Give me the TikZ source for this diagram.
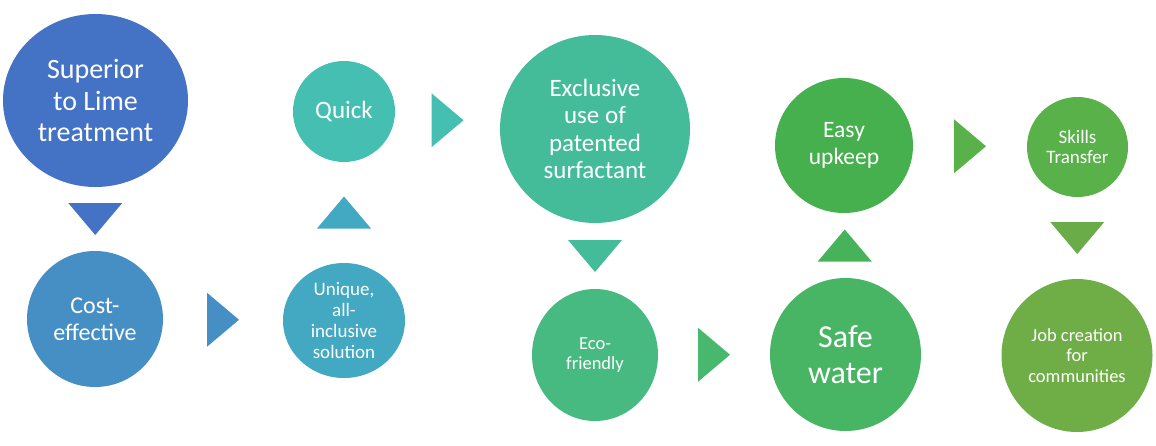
\documentclass[tikz,border=0pt]{standalone}
\usepackage{fontspec}
\setmainfont{Carlito}
\usepackage{tikz}
\usetikzlibrary{shapes.geometric, calc}
\definecolor{stepone}{RGB}{68, 114, 196}
\definecolor{steptwo}{RGB}{70, 143, 196}
\definecolor{stepthree}{RGB}{69, 191, 177}
\definecolor{stepfour}{RGB}{67, 168, 193}
\definecolor{stepfive}{RGB}{68, 188, 154}
\definecolor{stepsix}{RGB}{70, 186, 128}
\definecolor{stepseven}{RGB}{72, 181, 100}
\definecolor{stepeight}{RGB}{69, 176, 77}
\definecolor{stepnine}{RGB}{89, 177, 74}
\definecolor{stepten}{RGB}{111, 173, 71}
\definecolor{tripointsix}{RGB}{71, 184, 110}
\definecolor{tripointseven}{RGB}{70, 179, 90}
\definecolor{tripointnine}{RGB}{106, 173, 72}

\begin{document}
\begin{tikzpicture}[
  x=1pt, y=-1pt,
  stage/.style={ellipse, inner sep=0pt, outer sep=0pt, text=white, align=center},
  tridown/.pic={\fill[pic actions] (-27,-16) -- (27,-16) -- (0,16) -- cycle;},
  triup/.pic={\fill[pic actions] (-27,16) -- (27,16) -- (0,-16) -- cycle;},
  triright/.pic={\fill[pic actions] (-16,-27) -- (-16,27) -- (16,0) -- cycle;}
]
  \useasboundingbox (0,0) rectangle (1156,445);

  \node[stage, fill=stepone, minimum width=185pt, minimum height=173pt, font=\fontsize{28}{31.5}\selectfont] (superior) at (95.5,100.5) {Superior\\to Lime\\treatment};
  \node[stage, fill=steptwo, minimum width=136pt, minimum height=136pt, font=\fontsize{24}{27}\selectfont] (costeff) at (95,319) {Cost-\\effective};
  \node[stage, fill=stepfour, minimum width=122pt, minimum height=115pt, font=\fontsize{19}{20.8}\selectfont] (unique) at (344,320.5) {Unique,\\all-\\inclusive\\solution};
  \node[stage, fill=stepthree, minimum width=102pt, minimum height=101pt, font=\fontsize{25}{28}\selectfont] (quick) at (344,111.5) {Quick};
  \node[stage, fill=stepfive, minimum width=190pt, minimum height=188pt, font=\fontsize{25}{27.5}\selectfont] (patent) at (595,129) {Exclusive\\use of\\patented\\surfactant};
  \node[stage, fill=stepsix, minimum width=126pt, minimum height=132pt, font=\fontsize{18.5}{20.2}\selectfont] (eco) at (595,355) {Eco-\\friendly};
  \node[stage, fill=stepseven, minimum width=151pt, minimum height=153pt, font=\fontsize{32}{36}\selectfont] (safe) at (845.5,354.5) {Safe\\water};
  \node[stage, fill=stepeight, minimum width=138pt, minimum height=135pt, font=\fontsize{23.5}{26.5}\selectfont] (upkeep) at (844,145.5) {Easy\\upkeep};
  \node[stage, fill=stepnine, minimum width=101pt, minimum height=100pt, font=\fontsize{19}{20.5}\selectfont] (skills) at (1077.5,147) {Skills\\Transfer};
  \node[stage, fill=stepten, minimum width=151pt, minimum height=153pt, font=\fontsize{18.5}{20.6}\selectfont] (jobs) at (1077,355.5) {Job creation\\for\\communities};

  \path ($(superior.south)!0.5!(costeff.north)$) pic[fill=stepone] {tridown};
  \path ($(costeff.east)!0.5!(unique.west)$) pic[fill=steptwo] {triright};
  \path ($(unique.north)!0.5!(quick.south)$) pic[fill=stepfour] {triup};
  \path ($(quick.east)!0.5!(patent.west)$) pic[fill=stepthree] {triright};
  \path ($(patent.south)!0.5!(eco.north)$) pic[fill=stepfive] {tridown};
  \path ($(eco.east)!0.5!(safe.west)$) pic[fill=tripointsix] {triright};
  \path ($(safe.north)!0.5!(upkeep.south)$) pic[fill=tripointseven] {triup};
  \path ($(upkeep.east)!0.5!(skills.west)$) pic[fill=stepnine] {triright};
  \path ($(skills.south)!0.5!(jobs.north)$) pic[fill=tripointnine] {tridown};

\end{tikzpicture}
\end{document}
